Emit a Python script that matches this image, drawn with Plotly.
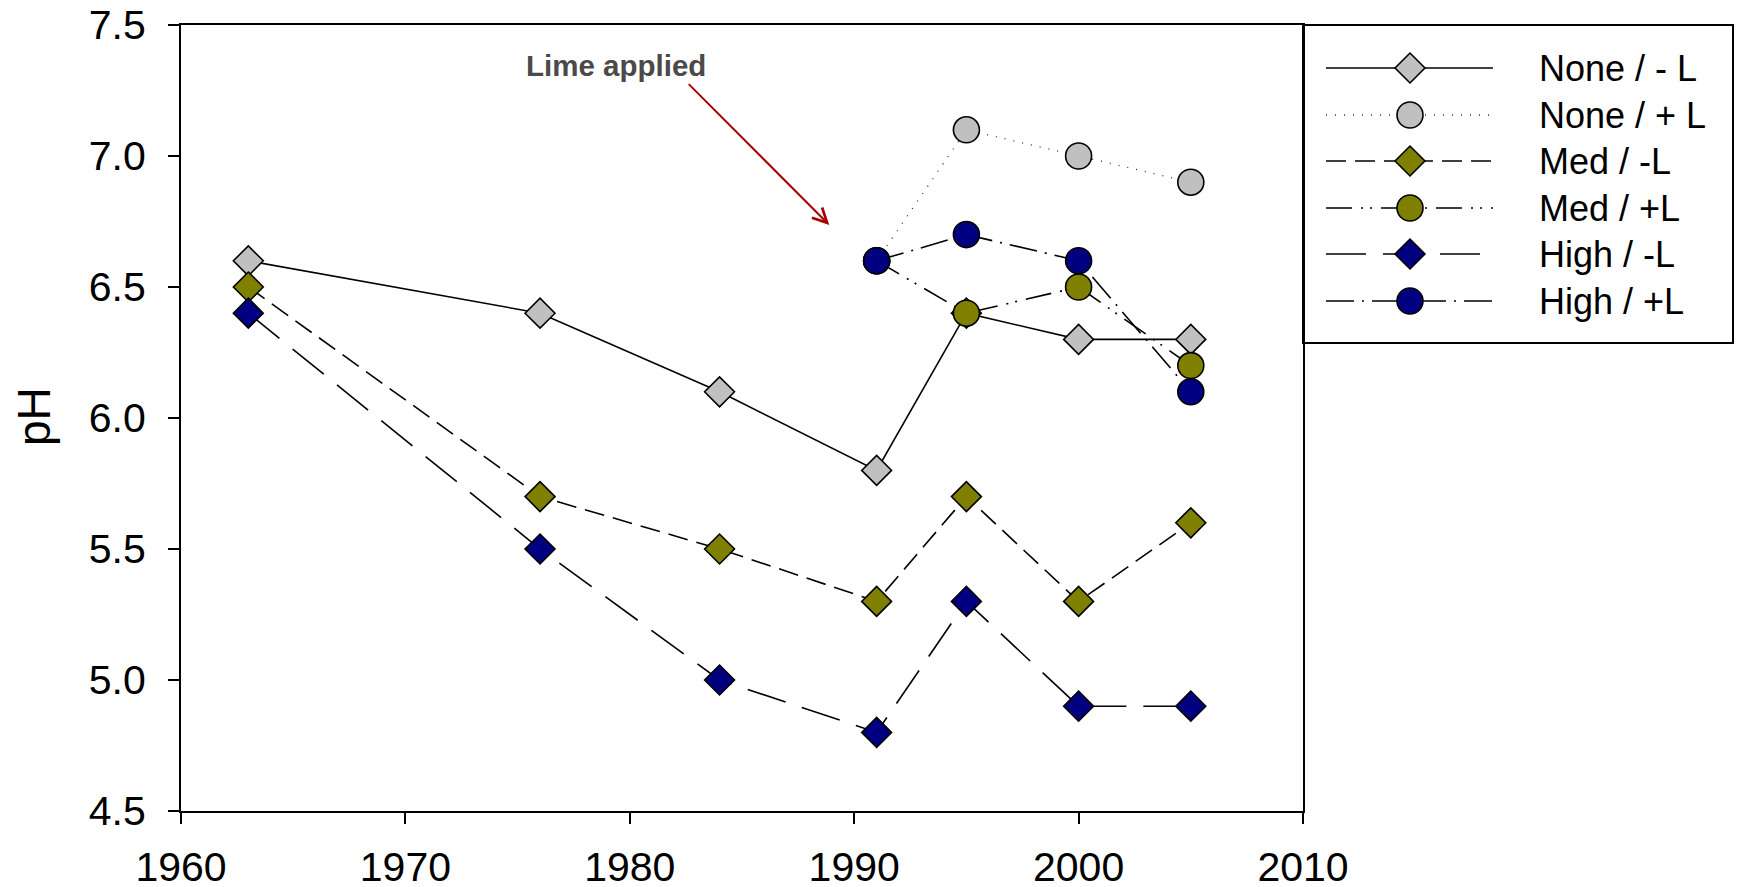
import plotly.graph_objects as go

# Sampling years
years_all = [1963, 1976, 1984, 1991, 1995, 2000, 2005]
years_limed = [1991, 1995, 2000, 2005]

# Soil pH by N rate (None / Med / High) without (-L) and with (+L) lime
ph_none_nolime = [6.6, 6.4, 6.1, 5.8, 6.4, 6.3, 6.3]
ph_none_lime = [6.6, 7.1, 7.0, 6.9]
ph_med_nolime = [6.5, 5.7, 5.5, 5.3, 5.7, 5.3, 5.6]
ph_med_lime = [6.6, 6.4, 6.5, 6.2]
ph_high_nolime = [6.4, 5.5, 5.0, 4.8, 5.3, 4.9, 4.9]
ph_high_lime = [6.6, 6.7, 6.6, 6.1]

series_labels = ["None / - L", "None / + L", "Med / -L", "Med / +L", "High / -L", "High / +L"]
x_ticks = [1960, 1970, 1980, 1990, 2000, 2010]
y_ticks = [4.5, 5.0, 5.5, 6.0, 6.5, 7.0, 7.5]

# Lime annotation: label anchor and arrow (tail -> head) in data units
lime_label = "Lime applied"
lime_label_pos = (1979.4, 7.347)
lime_arrow_tail = (1982.56, 7.28)
lime_arrow_head = (1988.89, 6.737)

FONT = "Arial, 'Liberation Sans', sans-serif"
GRAY, OLIVE, NAVY = "#C0C0C0", "#808000", "#000080"

series = [
    (years_all, ph_none_nolime, "diamond", GRAY, "solid", "black", 1.6),
    (years_limed, ph_none_lime, "circle", GRAY, "1px,8px", "#333333", 1.3),
    (years_all, ph_med_nolime, "diamond", OLIVE, "20px,9px", "black", 1.6),
    (years_limed, ph_med_lime, "circle", OLIVE, "26px,9px,2px,7px,2px,9px", "black", 1.6),
    (years_all, ph_high_nolime, "diamond", NAVY, "40px,17px", "black", 1.6),
    (years_limed, ph_high_lime, "circle", NAVY, "28px,8px,2px,8px", "black", 1.6),
]

def marker_style(symbol, fill):
    size = 23 if symbol == "diamond" else 26
    return dict(symbol=symbol, size=size, color=fill, line=dict(color="black", width=1.6))

# Page geometry (pixels)
W, H = 1740, 887
PL, PR, PT, PB = 181, 1303, 25, 811      # plot box
LR, LB = 1733, 343                        # legend box right / bottom
paper_w = LR - PL
paper_h = PB - PT
x_split = (PR - PL) / paper_w
leg_y0 = (PB - LB) / paper_h

fig = go.Figure()

for xs, ys, sym, fill, dash, lcol, lw in series:
    fig.add_trace(go.Scatter(
        x=xs, y=ys, mode="lines+markers",
        line=dict(color=lcol, width=lw, dash=dash),
        marker=marker_style(sym, fill),
        showlegend=False, hoverinfo="x+y",
    ))

# Legend drawn in its own small axes to the right of the plot
leg_rows = [43, 90, 136, 183, 229, 276]
for (xs, ys, sym, fill, dash, lcol, lw), row, label in zip(series, leg_rows, series_labels):
    fig.add_trace(go.Scatter(
        x=[23, 190], y=[row, row], mode="lines",
        line=dict(color=lcol, width=lw, dash=dash),
        xaxis="x2", yaxis="y2", showlegend=False, hoverinfo="skip",
    ))
    fig.add_trace(go.Scatter(
        x=[107], y=[row], mode="markers", marker=marker_style(sym, fill),
        xaxis="x2", yaxis="y2", showlegend=False, hoverinfo="skip",
    ))
    fig.add_annotation(
        x=234, y=row, xref="x2", yref="y2", text=label, showarrow=False,
        xanchor="left", yanchor="middle", font=dict(family=FONT, size=36, color="black"),
    )

fig.add_shape(type="rect", xref="paper", yref="paper", x0=x_split, x1=1, y0=leg_y0, y1=1,
              line=dict(color="black", width=2), fillcolor="rgba(0,0,0,0)")

# Lime application note
fig.add_annotation(
    x=lime_arrow_head[0], y=lime_arrow_head[1], ax=lime_arrow_tail[0], ay=lime_arrow_tail[1],
    xref="x", yref="y", axref="x", ayref="y", text="", showarrow=True,
    arrowhead=5, arrowsize=1.4, arrowwidth=2, arrowcolor="#A80000", standoff=0,
)
fig.add_annotation(
    x=lime_label_pos[0], y=lime_label_pos[1], xref="x", yref="y", text="<b>%s</b>" % lime_label,
    showarrow=False, xanchor="center", yanchor="middle",
    font=dict(family=FONT, size=29.5, color="#4a4a4a"),
)

# Y axis title
fig.add_annotation(
    x=(34 - PL) / paper_w, y=0.5 + ((PB + PT) / 2 - 417) / paper_h, xref="paper", yref="paper",
    text="pH", textangle=-90, showarrow=False, xanchor="center", yanchor="middle",
    font=dict(family=FONT, size=46, color="black"),
)

axis_common = dict(
    showline=True, linecolor="black", linewidth=2, mirror=True, showgrid=False, zeroline=False,
    ticks="outside", ticklen=11, tickwidth=2, tickcolor="black", automargin=False,
    tickfont=dict(family=FONT, size=41, color="black"),
)

fig.update_layout(
    template="none",
    width=W, height=H,
    margin=dict(l=PL, r=W - LR, t=PT, b=H - PB, pad=0),
    paper_bgcolor="white", plot_bgcolor="white",
    xaxis=dict(domain=[0, x_split], range=[1960, 2010], tickvals=x_ticks,
               ticktext=[str(v) for v in x_ticks], ticklabelstandoff=8, **axis_common),
    yaxis=dict(domain=[0, 1], range=[4.5, 7.5], tickvals=y_ticks,
               ticktext=["%.1f" % v for v in y_ticks], ticklabelstandoff=14, **axis_common),
    xaxis2=dict(domain=[x_split, 1], range=[0, LR - PR], visible=False, fixedrange=True,
                anchor="y2", automargin=False),
    yaxis2=dict(domain=[leg_y0, 1], range=[LB - PT, 0], visible=False, fixedrange=True,
                anchor="x2", automargin=False),
    showlegend=False,
)

fig.write_html("out.html")
